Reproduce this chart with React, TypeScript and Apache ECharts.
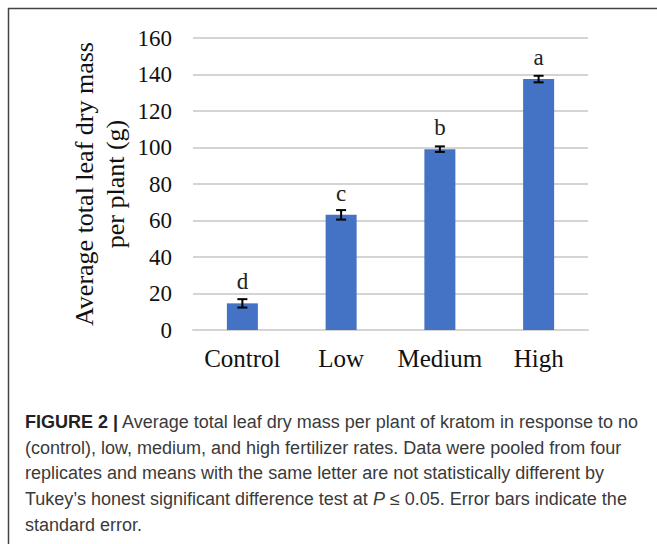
import React, { useEffect, useRef } from "react";
import * as echarts from "echarts";

const categories = ["Control", "Low", "Medium", "High"];
const means = [14.6, 63.1, 99.1, 137.5];
const stdErrors = [2.3, 2.6, 1.5, 1.8];
const letters = ["d", "c", "b", "a"];
const yMin = 0;
const yMax = 160;
const yInterval = 20;

const captionLines: React.ReactNode[] = [
  <>
    <b style={{ color: "#222" }}>FIGURE 2 |</b> Average total leaf dry mass per plant of kratom in response to no
  </>,
  <>(control), low, medium, and high fertilizer rates. Data were pooled from four</>,
  <>replicates and means with the same letter are not statistically different by</>,
  <>
    Tukey’s honest significant difference test at <i>P</i> ≤ 0.05. Error bars indicate the
  </>,
  <>standard error.</>,
];

const SERIF = '"Liberation Serif", "Times New Roman", serif';

export default function App() {
  const ref = useRef<HTMLDivElement>(null);

  useEffect(() => {
    if (!ref.current) return;
    const chart = echarts.init(ref.current, undefined, { renderer: "svg" });
    const errData = categories.map((_, i) => [i, means[i], stdErrors[i]]);
    chart.setOption({
      animation: false,
      backgroundColor: "#ffffff",
      grid: { left: 193, right: 69, top: 38, bottom: 214, containLabel: false },
      xAxis: {
        type: "category",
        data: categories,
        axisLine: { show: true, lineStyle: { color: "#d4d4d4", width: 2 } },
        axisTick: { show: false },
        axisLabel: {
          interval: 0,
          color: "#111",
          fontFamily: SERIF,
          fontSize: 25,
          margin: 16,
        },
      },
      yAxis: {
        type: "value",
        min: yMin,
        max: yMax,
        interval: yInterval,
        axisLine: { show: false },
        axisTick: { show: false },
        splitLine: { lineStyle: { color: "#d4d4d4", width: 2 } },
        axisLabel: {
          color: "#111",
          fontFamily: SERIF,
          fontSize: 23,
          margin: 21,
        },
      },
      series: [
        {
          type: "bar",
          data: means,
          barWidth: 31,
          itemStyle: { color: "#4472C4" },
          label: {
            show: true,
            position: "top",
            distance: 10,
            formatter: (p: any) => letters[p.dataIndex],
            fontFamily: SERIF,
            fontSize: 23,
            color: "#222",
          },
          z: 2,
        },
        {
          type: "custom",
          data: errData,
          encode: { x: 0, y: 1 },
          z: 3,
          renderItem: (params: any, api: any) => {
            const i = api.value(0);
            const m = api.value(1);
            const e = api.value(2);
            const hi = api.coord([i, m + e]);
            const lo = api.coord([i, m - e]);
            const half = 5;
            const style = { stroke: "#000", lineWidth: 2 };
            return {
              type: "group",
              children: [
                { type: "line", shape: { x1: hi[0], y1: hi[1], x2: lo[0], y2: lo[1] }, style },
                { type: "line", shape: { x1: hi[0] - half, y1: hi[1], x2: hi[0] + half, y2: hi[1] }, style },
                { type: "line", shape: { x1: lo[0] - half, y1: lo[1], x2: lo[0] + half, y2: lo[1] }, style },
              ],
            };
          },
        },
      ],
      graphic: [
        {
          type: "line",
          shape: { x1: 8, y1: 8.5, x2: 657, y2: 8.5 },
          style: { stroke: "#444", lineWidth: 1.5 },
        },
        {
          type: "line",
          shape: { x1: 8.5, y1: 8, x2: 8.5, y2: 544 },
          style: { stroke: "#444", lineWidth: 1.5 },
        },
        {
          type: "text",
          x: 100,
          y: 184,
          rotation: Math.PI / 2,
          style: {
            text: "Average total leaf dry mass\nper plant (g)",
            align: "center",
            verticalAlign: "middle",
            fontFamily: SERIF,
            fontSize: 26,
            lineHeight: 31,
            fill: "#111",
          },
        },
      ],
    });
    return () => chart.dispose();
  }, []);

  return (
    <div style={{ position: "absolute", left: 0, top: 0, width: 657, height: 544, background: "#fff" }}>
      <div ref={ref} style={{ position: "absolute", left: 0, top: 0, width: 657, height: 544 }} />
      <div
        style={{
          position: "absolute",
          left: 25,
          top: 410,
          fontFamily: '"Liberation Sans", Arial, sans-serif',
          fontSize: 18,
          lineHeight: "25.7px",
          color: "#3a3a3a",
          whiteSpace: "nowrap",
        }}
      >
        {captionLines.map((l, i) => (
          <div key={i}>{l}</div>
        ))}
      </div>
    </div>
  );
}
